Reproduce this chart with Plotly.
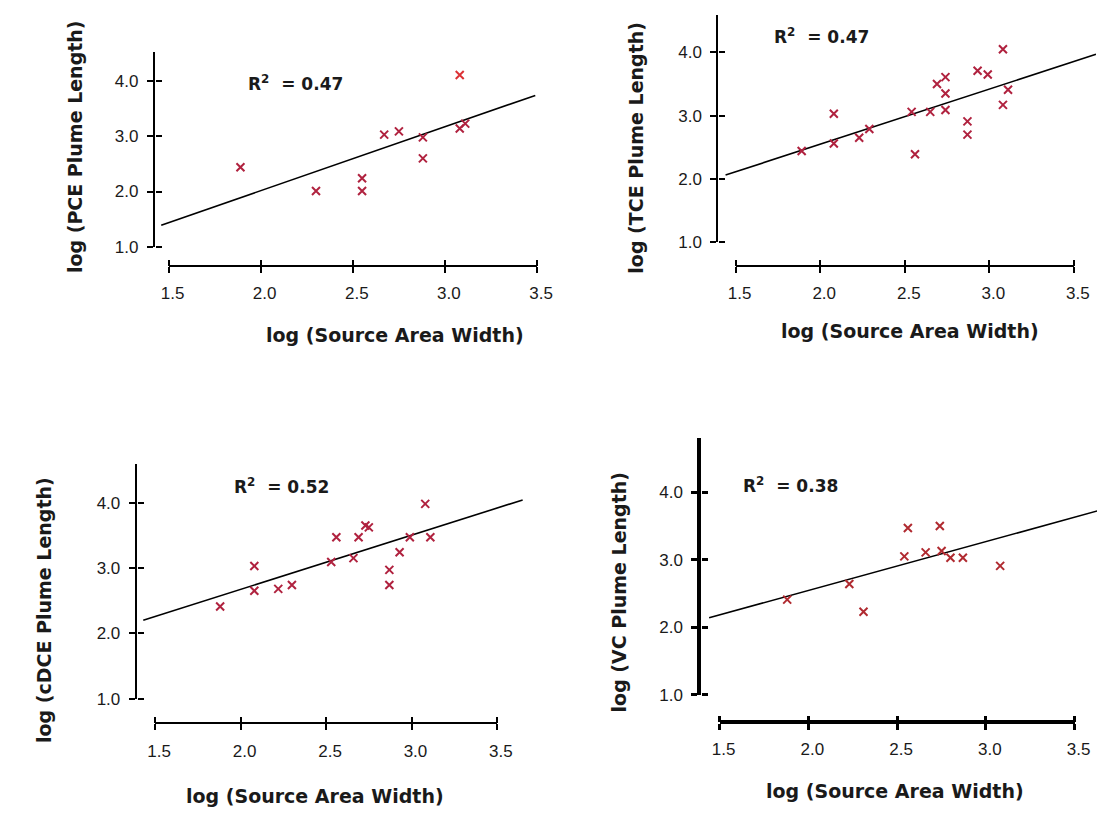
import plotly.graph_objects as go

W, H = 1105, 814

# ---------------- data ----------------
pce_x = [1.89, 2.30, 2.55, 2.55, 2.67, 2.75, 2.88, 2.88, 3.08, 3.08, 3.11]
pce_y = [2.44, 2.01, 2.24, 2.01, 3.03, 3.09, 2.98, 2.60, 4.11, 3.14, 3.23]

tce_x = [1.89, 2.08, 2.08, 2.23, 2.29, 2.54, 2.56, 2.65, 2.69, 2.74, 2.74, 2.74,
         2.87, 2.87, 2.93, 2.99, 3.08, 3.08, 3.11]
tce_y = [2.44, 3.03, 2.56, 2.65, 2.79, 3.06, 2.39, 3.06, 3.50, 3.61, 3.35, 3.09,
         2.91, 2.70, 3.71, 3.65, 4.05, 3.17, 3.41]

cdce_x = [1.88, 2.08, 2.08, 2.22, 2.30, 2.53, 2.56, 2.66, 2.69, 2.73, 2.75,
          2.87, 2.87, 2.93, 2.99, 3.08, 3.11]
cdce_y = [2.41, 3.03, 2.65, 2.68, 2.74, 3.09, 3.47, 3.15, 3.47, 3.65, 3.62,
          2.97, 2.74, 3.24, 3.47, 3.98, 3.47]

vc_x = [1.88, 2.23, 2.31, 2.54, 2.56, 2.66, 2.74, 2.75, 2.80, 2.87, 3.08]
vc_y = [2.41, 2.64, 2.23, 3.05, 3.47, 3.11, 3.50, 3.13, 3.03, 3.03, 2.91]

# regression line end points
pce_fit_x, pce_fit_y = [1.46, 3.49], [1.39, 3.74]
tce_fit_x, tce_fit_y = [1.44, 3.63], [2.06, 3.97]
cdce_fit_x, cdce_fit_y = [1.43, 3.65], [2.20, 4.04]
vc_fit_x, vc_fit_y = [1.44, 3.65], [2.14, 3.74]

r2_values = ["0.47", "0.47", "0.52", "0.38"]
y_titles = ["log (PCE Plume Length)", "log (TCE Plume Length)",
            "log (cDCE Plume Length)", "log (VC Plume Length)"]
x_title = "log (Source Area Width)"

x_tick_vals = [1.5, 2.0, 2.5, 3.0, 3.5]
x_tick_text = ["1.5", "2.0", "2.5", "3.0", "3.5"]
y_tick_vals = [1.0, 2.0, 3.0, 4.0]
y_tick_text = ["1.0", "2.0", "3.0", "4.0"]

series = [
    (pce_x, pce_y, pce_fit_x, pce_fit_y),
    (tce_x, tce_y, tce_fit_x, tce_fit_y),
    (cdce_x, cdce_y, cdce_fit_x, cdce_fit_y),
    (vc_x, vc_y, vc_fit_x, vc_fit_y),
]

# ---------------- layout geometry (pixels) ----------------
geom = [
    dict(yax=137.8, x15=151.9, x35=528.6, y4=74.0, y1=241.7, top=45.0, xline=261.0,
         right=545, lw=2, r2=(282, 76), xt=(383.5, 331), yt=(56, 140), col="#B0223F"),
    dict(yax=713.9, x15=731.6, x35=1077.4, y4=45.0, y1=237.0, top=6.7, xline=261.3,
         right=1100, lw=2, r2=(819, 28), xt=(910, 327), yt=(629.6, 141.5), col="#B0223F"),
    dict(yax=119.3, x15=138.2, x35=487.6, y4=500.7, y1=699.3, top=461.7, xline=724.3,
         right=530, lw=2, r2=(267, 484.3), xt=(301.8, 798), yt=(24, 609), col="#B0223F"),
    dict(yax=696.2, x15=715.3, x35=1078.1, y4=490.3, y1=695.3, top=435.0, xline=722.7,
         right=1105, lw=3.5, r2=(787.5, 483.3), xt=(894, 793), yt=(612, 592), col="#B02A30"),
]
LABEL_SHIFT_PX = 4   # tick labels sit slightly right of their ticks in the reference
PAD_PX = 3           # extra span so inside ticks at the axis ends are not dropped
TICKLEN = 6

FONT = "DejaVu Sans"
TICKFONT = dict(family="Liberation Sans, Arial, sans-serif", size=17, color="#1a1a1a")
TXT = "#1a1a1a"

fig = go.Figure()
layout = dict(
    width=W, height=H, margin=dict(l=0, r=0, t=0, b=0),
    paper_bgcolor="white", plot_bgcolor="rgba(0,0,0,0)",
    showlegend=False, annotations=[],
    font=dict(family=FONT, color=TXT),
)

ax_id = [4]


def new_id():
    ax_id[0] += 1
    return str(ax_id[0])


for i, ((sx, sy, fx, fy), g) in enumerate(zip(series, geom)):
    xs = "" if i == 0 else str(i + 1)

    def xv(px):
        return 1.5 + (px - g["x15"]) / (g["x35"] - g["x15"]) * 2.0

    def yv(py):
        return 4.0 - (py - g["y4"]) / (g["y1"] - g["y4"]) * 3.0

    tw = max(2, g["lw"] - 1)
    ydom = [1 - g["y1"] / H, 1 - g["top"] / H]
    yrng = [1.0, yv(g["top"])]

    # main data axes
    layout["xaxis" + xs] = dict(
        domain=[g["yax"] / W, min(g["right"] / W, 1.0)],
        range=[xv(g["yax"]), xv(g["right"])],
        showline=False, showgrid=False, zeroline=False,
        showticklabels=False, ticks="", anchor="y" + xs,
    )
    layout["yaxis" + xs] = dict(
        domain=ydom, range=yrng,
        showline=True, linecolor="black", linewidth=g["lw"],
        showgrid=False, zeroline=False,
        ticks="outside", ticklen=TICKLEN, tickwidth=tw, tickcolor="black",
        tickvals=y_tick_vals, ticktext=y_tick_text, tickfont=TICKFONT,
        ticklabelstandoff=5, anchor="x" + xs, side="left",
    )
    # inside ticks of the y axis (slightly longer span so the 1.0 tick is kept)
    yi = new_id()
    layout["yaxis" + yi] = dict(
        domain=[1 - (g["y1"] + PAD_PX) / H, 1 - (g["top"] - PAD_PX) / H],
        range=[yv(g["y1"] + PAD_PX), yv(g["top"] - PAD_PX)],
        anchor="free", position=g["yax"] / W, side="left",
        showline=False, showgrid=False, zeroline=False,
        ticks="inside", ticklen=TICKLEN, tickwidth=tw, tickcolor="black",
        tickvals=y_tick_vals, showticklabels=False,
    )
    fig.add_trace(go.Scatter(x=[None], y=[None], xaxis="x" + xs, yaxis="y" + yi,
                             hoverinfo="skip"))

    pos = 1 - g["xline"] / H
    # x axis line + outside ticks
    xo = new_id()
    layout["xaxis" + xo] = dict(
        domain=[g["x15"] / W, g["x35"] / W], range=[1.5, 3.5],
        anchor="free", position=pos,
        showline=True, linecolor="black", linewidth=g["lw"],
        showgrid=False, zeroline=False,
        ticks="outside", ticklen=TICKLEN, tickwidth=tw, tickcolor="black",
        tickvals=x_tick_vals, showticklabels=False,
    )
    # x inside ticks (padded span so end ticks are kept)
    xi = new_id()
    layout["xaxis" + xi] = dict(
        domain=[(g["x15"] - PAD_PX) / W, min((g["x35"] + PAD_PX) / W, 1.0)],
        range=[xv(g["x15"] - PAD_PX), xv(min(g["x35"] + PAD_PX, W))],
        anchor="free", position=pos,
        showline=False, showgrid=False, zeroline=False,
        ticks="inside", ticklen=TICKLEN, tickwidth=tw, tickcolor="black",
        tickvals=x_tick_vals, showticklabels=False,
    )
    # x tick labels, nudged right
    s = LABEL_SHIFT_PX
    xl = new_id()
    layout["xaxis" + xl] = dict(
        domain=[(g["x15"] + s) / W, min((g["x35"] + s) / W, 1.0)], range=[1.5, 3.5],
        anchor="free", position=pos,
        showline=False, showgrid=False, zeroline=False,
        ticks="outside", ticklen=TICKLEN, tickcolor="rgba(0,0,0,0)",
        tickvals=x_tick_vals, ticktext=x_tick_text, tickfont=TICKFONT,
        ticklabelstandoff=6,
    )
    for a in (xo, xi, xl):
        fig.add_trace(go.Scatter(x=[None], y=[None], xaxis="x" + a, yaxis="y" + xs,
                                 hoverinfo="skip"))

    # data traces
    colors = [g["col"]] * len(sx)
    if i == 0:
        colors[sy.index(max(sy))] = "#DC3236"
    fig.add_trace(go.Scatter(
        x=fx, y=fy, mode="lines", line=dict(color="black", width=1.6),
        xaxis="x" + xs, yaxis="y" + xs, hoverinfo="skip",
    ))
    fig.add_trace(go.Scatter(
        x=sx, y=sy, mode="markers",
        marker=dict(symbol="x-thin", size=8, color=colors,
                    line=dict(width=2, color=colors)),
        xaxis="x" + xs, yaxis="y" + xs,
    ))

    layout["annotations"] += [
        dict(text="<b>R<sup>2</sup>\u00a0\u00a0= " + r2_values[i] + "</b>",
             x=g["r2"][0] / W, y=1 - g["r2"][1] / H, xref="paper", yref="paper",
             xanchor="center", yanchor="middle", showarrow=False,
             font=dict(family=FONT, size=17, color=TXT)),
        dict(text="<b>" + x_title + "</b>",
             x=g["xt"][0] / W, y=1 - g["xt"][1] / H, xref="paper", yref="paper",
             xanchor="center", yanchor="middle", showarrow=False,
             font=dict(family=FONT, size=19, color=TXT)),
        dict(text="<b>" + y_titles[i] + "</b>", textangle=-90,
             x=g["yt"][0] / W, y=1 - g["yt"][1] / H, xref="paper", yref="paper",
             xanchor="center", yanchor="middle", showarrow=False,
             font=dict(family=FONT, size=19, color=TXT)),
    ]

fig.update_layout(**layout)
fig.write_html("out.html")
